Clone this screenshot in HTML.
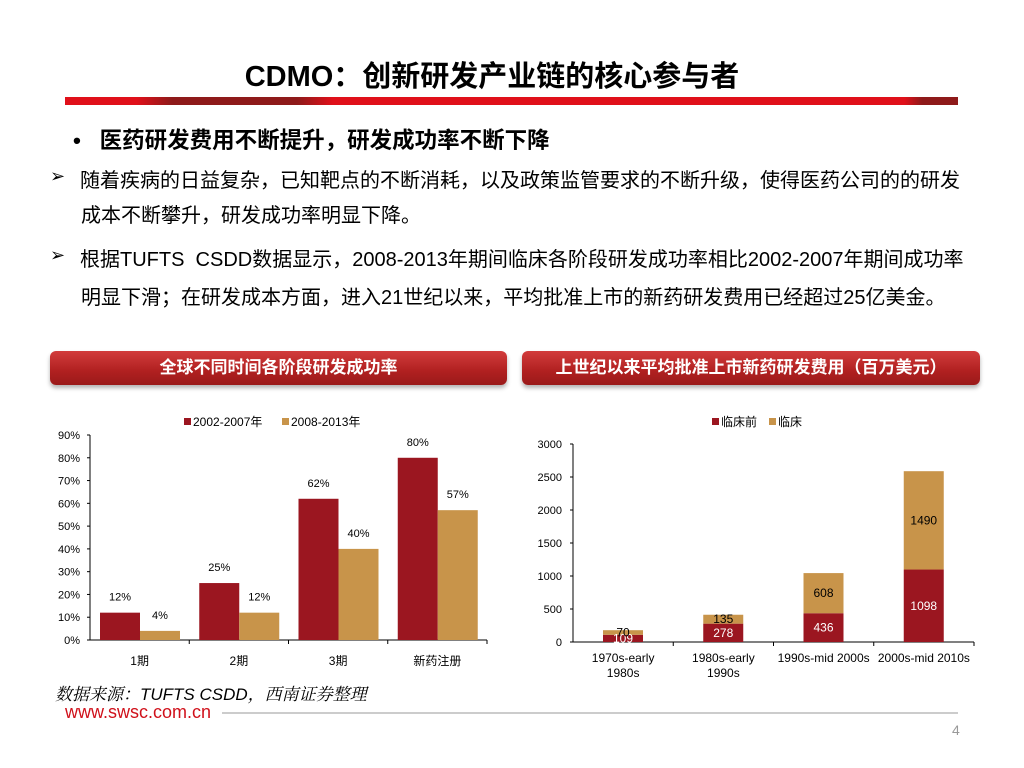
<!DOCTYPE html>
<html><head><meta charset="utf-8"><style>
body{margin:0;width:1024px;height:768px;background:#fff;position:relative;overflow:hidden;font-family:"Liberation Sans","Noto Sans CJK SC",sans-serif;color:#000}
.a{position:absolute;white-space:nowrap}
.hdr{position:absolute;height:34px;border-radius:6px;background:linear-gradient(#d23c3c,#b02020 60%,#9a1a1a);box-shadow:0 3px 4px rgba(0,0,0,.3);color:#fff;font-weight:bold;font-size:17px;text-align:center;line-height:34px}
.p{font-size:20px}
</style></head><body>
<div class="a" style="left:0;width:984px;text-align:center;top:53px;font-size:29px;font-weight:bold">CDMO：创新研发产业链的核心参与者</div>
<div class="a" style="left:65px;top:97px;width:893px;height:8px;background:linear-gradient(90deg,#e0101a 0%,#e0101a 8%,#8e1a1a 12%,#8e1a1a 26%,#e0101a 30%,#e0101a 94%,#8e1a1a 96%)"></div>
<div class="a" style="left:73px;top:123px;font-size:22.5px;font-weight:bold">•&nbsp;&nbsp;&nbsp;医药研发费用不断提升，研发成功率不断下降</div>
<div class="a" style="left:50px;top:166px;font-size:18px">➢</div>
<div class="a p" style="left:80px;top:164px">随着疾病的日益复杂，已知靶点的不断消耗，以及政策监管要求的不断升级，使得医药公司的的研发</div>
<div class="a p" style="left:81px;top:199px">成本不断攀升，研发成功率明显下降。</div>
<div class="a" style="left:50px;top:245px;font-size:18px">➢</div>
<div class="a p" style="left:80px;top:243px">根据TUFTS&nbsp;&nbsp;CSDD数据显示，2008-2013年期间临床各阶段研发成功率相比2002-2007年期间成功率</div>
<div class="a p" style="left:81px;top:281px">明显下滑；在研发成本方面，进入21世纪以来，平均批准上市的新药研发费用已经超过25亿美金。</div>
<div class="hdr" style="left:50px;top:351px;width:457px">全球不同时间各阶段研发成功率</div>
<div class="hdr" style="left:522px;top:351px;width:458px">上世纪以来平均批准上市新药研发费用（百万美元）</div>
<svg class="a" style="left:0;top:0" width="1024" height="768" font-family="Liberation Sans,Noto Sans CJK SC,sans-serif">
<g id="c1"></g><g id="c2"></g></svg>
<div class="a" style="left:55px;top:680px;font-size:17px;font-style:italic;font-family:'Liberation Sans','Noto Serif CJK SC',serif">数据来源：TUFTS CSDD，西南证券整理</div>
<div class="a" style="left:65px;top:702px;font-size:18px;color:#d0101a">www.swsc.com.cn</div>
<div class="a" style="left:222px;top:712px;width:736px;height:2px;background:#ccc"></div>
<div class="a" style="left:952px;top:722px;font-size:14px;color:#999">4</div>
<script>
const cats1=["1期","2期","3期","新药注册"];
const s1a=[12,25,62,80];
const s1b=[4,12,40,57];
const ticks1=[0,10,20,30,40,50,60,70,80,90];
const cats2=[["1970s-early","1980s"],["1980s-early","1990s"],["1990s-mid 2000s"],["2000s-mid 2010s"]];
const s2a=[109,278,436,1098];
const s2b=[70,135,608,1490];
const ticks2=[0,500,1000,1500,2000,2500,3000];
const RED="#9b1620",GOLD="#c8944a",NS="http://www.w3.org/2000/svg";
function mk(p,t,a,txt){const e=document.createElementNS(NS,t);for(const k in a)e.setAttribute(k,a[k]);if(txt!=null)e.textContent=txt;p.appendChild(e);return e;}
// chart 1
const g1=document.getElementById('c1');
const x0=90,x1=487,yb=640,yt=435,ymax=90;
const Y1=v=>yb-(v/ymax)*(yb-yt);const cw=(x1-x0)/cats1.length;
ticks1.forEach(t=>{const e=mk(g1,'text',{x:80,y:Y1(t)+4,'text-anchor':'end','font-size':11},t+'%');


mk(g1,'line',{x1:x0-3,x2:x0,y1:Y1(t),y2:Y1(t),stroke:'#000'});});
mk(g1,'line',{x1:x0,x2:x0,y1:yt,y2:yb,stroke:'#000'});mk(g1,'line',{x1:x0,x2:x1,y1:yb,y2:yb,stroke:'#000'});
cats1.forEach((c,i)=>{const gx=x0+i*cw;
mk(g1,'line',{x1:gx+cw,x2:gx+cw,y1:yb,y2:yb+4,stroke:'#000'});
const l=mk(g1,'text',{x:gx+cw/2,y:yb+25,'text-anchor':'middle','font-size':12},c);


[[s1a,RED,10],[s1b,GOLD,50]].forEach(([s,col,off])=>{const v=s[i];
const r=mk(g1,'rect',{x:gx+off,y:Y1(v),width:40,height:yb-Y1(v),fill:col});


mk(g1,'text',{x:gx+off+20,y:Y1(v)-12,'text-anchor':'middle','font-size':11},v+'%');});});
mk(g1,'rect',{x:184,y:418,width:7,height:7,fill:RED});mk(g1,'text',{x:193,y:426,'font-size':12},'2002-2007年');
mk(g1,'rect',{x:282,y:418,width:7,height:7,fill:GOLD});mk(g1,'text',{x:291,y:426,'font-size':12},'2008-2013年');
// chart 2
const g2=document.getElementById('c2');
const u0=573,u1=974,vb=642,vt=444,vmax=3000;
const Y2=v=>vb-(v/vmax)*(vb-vt);const cw2=(u1-u0)/cats2.length;
ticks2.forEach(t=>{const e=mk(g2,'text',{x:562,y:Y2(t)+4,'text-anchor':'end','font-size':11},t);


mk(g2,'line',{x1:u0-3,x2:u0,y1:Y2(t),y2:Y2(t),stroke:'#000'});});
mk(g2,'line',{x1:u0,x2:u0,y1:vt,y2:vb,stroke:'#000'});mk(g2,'line',{x1:u0,x2:u1,y1:vb,y2:vb,stroke:'#000'});
cats2.forEach((c,i)=>{const gx=u0+i*cw2,bx=gx+30;
mk(g2,'line',{x1:gx+cw2,x2:gx+cw2,y1:vb,y2:vb+4,stroke:'#000'});
c.forEach((ln,j)=>{const l=mk(g2,'text',{x:gx+cw2/2,y:vb+20+j*15,'text-anchor':'middle','font-size':12},ln);

});
const a=s2a[i],b=s2b[i];
const r1=mk(g2,'rect',{x:bx,y:Y2(a),width:40,height:vb-Y2(a),fill:RED});


const r2=mk(g2,'rect',{x:bx,y:Y2(a+b),width:40,height:Y2(a)-Y2(a+b),fill:GOLD});


mk(g2,'text',{x:bx+20,y:(Y2(a)+vb)/2+4,'text-anchor':'middle','font-size':12,fill:'#fff'},a);
mk(g2,'text',{x:bx+20,y:(Y2(a)+Y2(a+b))/2+4,'text-anchor':'middle','font-size':12},b);});
mk(g2,'rect',{x:712,y:418,width:7,height:7,fill:RED});mk(g2,'text',{x:721,y:426,'font-size':12},'临床前');
mk(g2,'rect',{x:769,y:418,width:7,height:7,fill:GOLD});mk(g2,'text',{x:778,y:426,'font-size':12},'临床');
</script>
</body></html>
